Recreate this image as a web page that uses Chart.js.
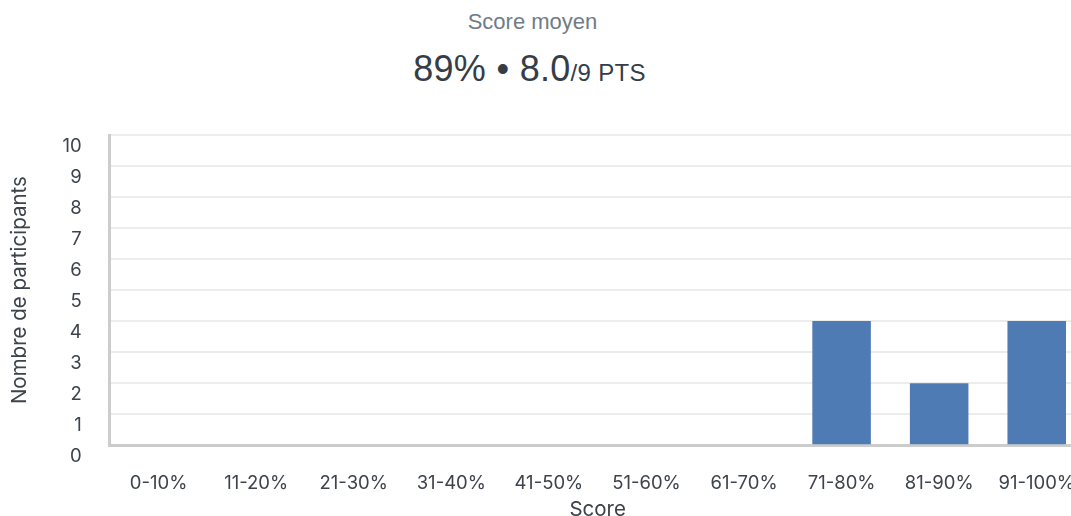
<!DOCTYPE html>
<html>
<head>
<meta charset="utf-8">
<script src="https://cdn.jsdelivr.net/npm/chart.js@4"></script>
<style>
  body { margin: 0; background: #fff; overflow: hidden; }
  #entete { position: absolute; left: 0; top: 0; width: 1071px; text-align: center; font-family: "Liberation Sans", Arial, sans-serif; }
  #sousTitre { position: absolute; top: 9px; left: -3px; width: 100%; font-size: 22px; color: #6f7c88; }
  #score { position: absolute; top: 48px; left: -6px; width: 100%; font-size: 36px; letter-spacing: 0.3px; color: #353d48; }
  #score small { font-size: 24px; }
  #graphique { position: absolute; left: 0; top: 0; }
</style>
</head>
<body>
<div id="entete">
  <div id="sousTitre">Score moyen</div>
  <div id="score">89% • 8.0<small>/9 PTS</small></div>
</div>
<canvas id="graphique" width="1102" height="516"></canvas>
<script>
// Répartition des scores
const tranches = ['0-10%', '11-20%', '21-30%', '31-40%', '41-50%', '51-60%', '61-70%', '71-80%', '81-90%', '91-100%'];
const participants = [0, 0, 0, 0, 0, 0, 0, 4, 2, 4];
const maxY = 10;

const ctx = document.getElementById('graphique').getContext('2d');
const grafico = new Chart(ctx, {
    type: 'bar',
    data: {
        labels: tranches,
        datasets: [{
            label: 'Participants',
            data: participants,
            backgroundColor: '#4e7bb4',
            barPercentage: 0.6,
            categoryPercentage: 1
        }]
    },
    options: {
        responsive: false,
        animation: false,
        layout: { padding: { top: 135, right: 0, left: 0, bottom: 0 } },
        plugins: { legend: { display: false }, tooltip: { enabled: false } },
        scales: {
            x: {
                grid: { display: false, drawTicks: false },
                border: { display: true, color: '#cccccc', width: 3 },
                ticks: { color: '#3d434b', font: { family: 'Inter', size: 18.5 }, padding: 27, maxRotation: 0 },
                // le padding des ticks compte deux fois, on compense avec le titre
                title: { display: true, text: 'Score', color: '#3d434b', font: { family: 'Inter', size: 20.5 }, padding: { top: -24, bottom: -6 } }
            },
            y: {
                min: 0,
                max: maxY,
                grid: { color: '#ececec', lineWidth: 2, drawTicks: false },
                border: { display: true, color: '#cccccc', width: 3 },
                ticks: { stepSize: 1, color: '#3d434b', font: { family: 'Inter', size: 18.5 }, padding: 28, labelOffset: 11 },
                title: { display: true, text: 'Nombre de participants', color: '#3d434b', font: { family: 'Inter', size: 20.5 }, padding: { top: 8, bottom: 2 } }
            }
        }
    }
});
</script>
</body>
</html>
